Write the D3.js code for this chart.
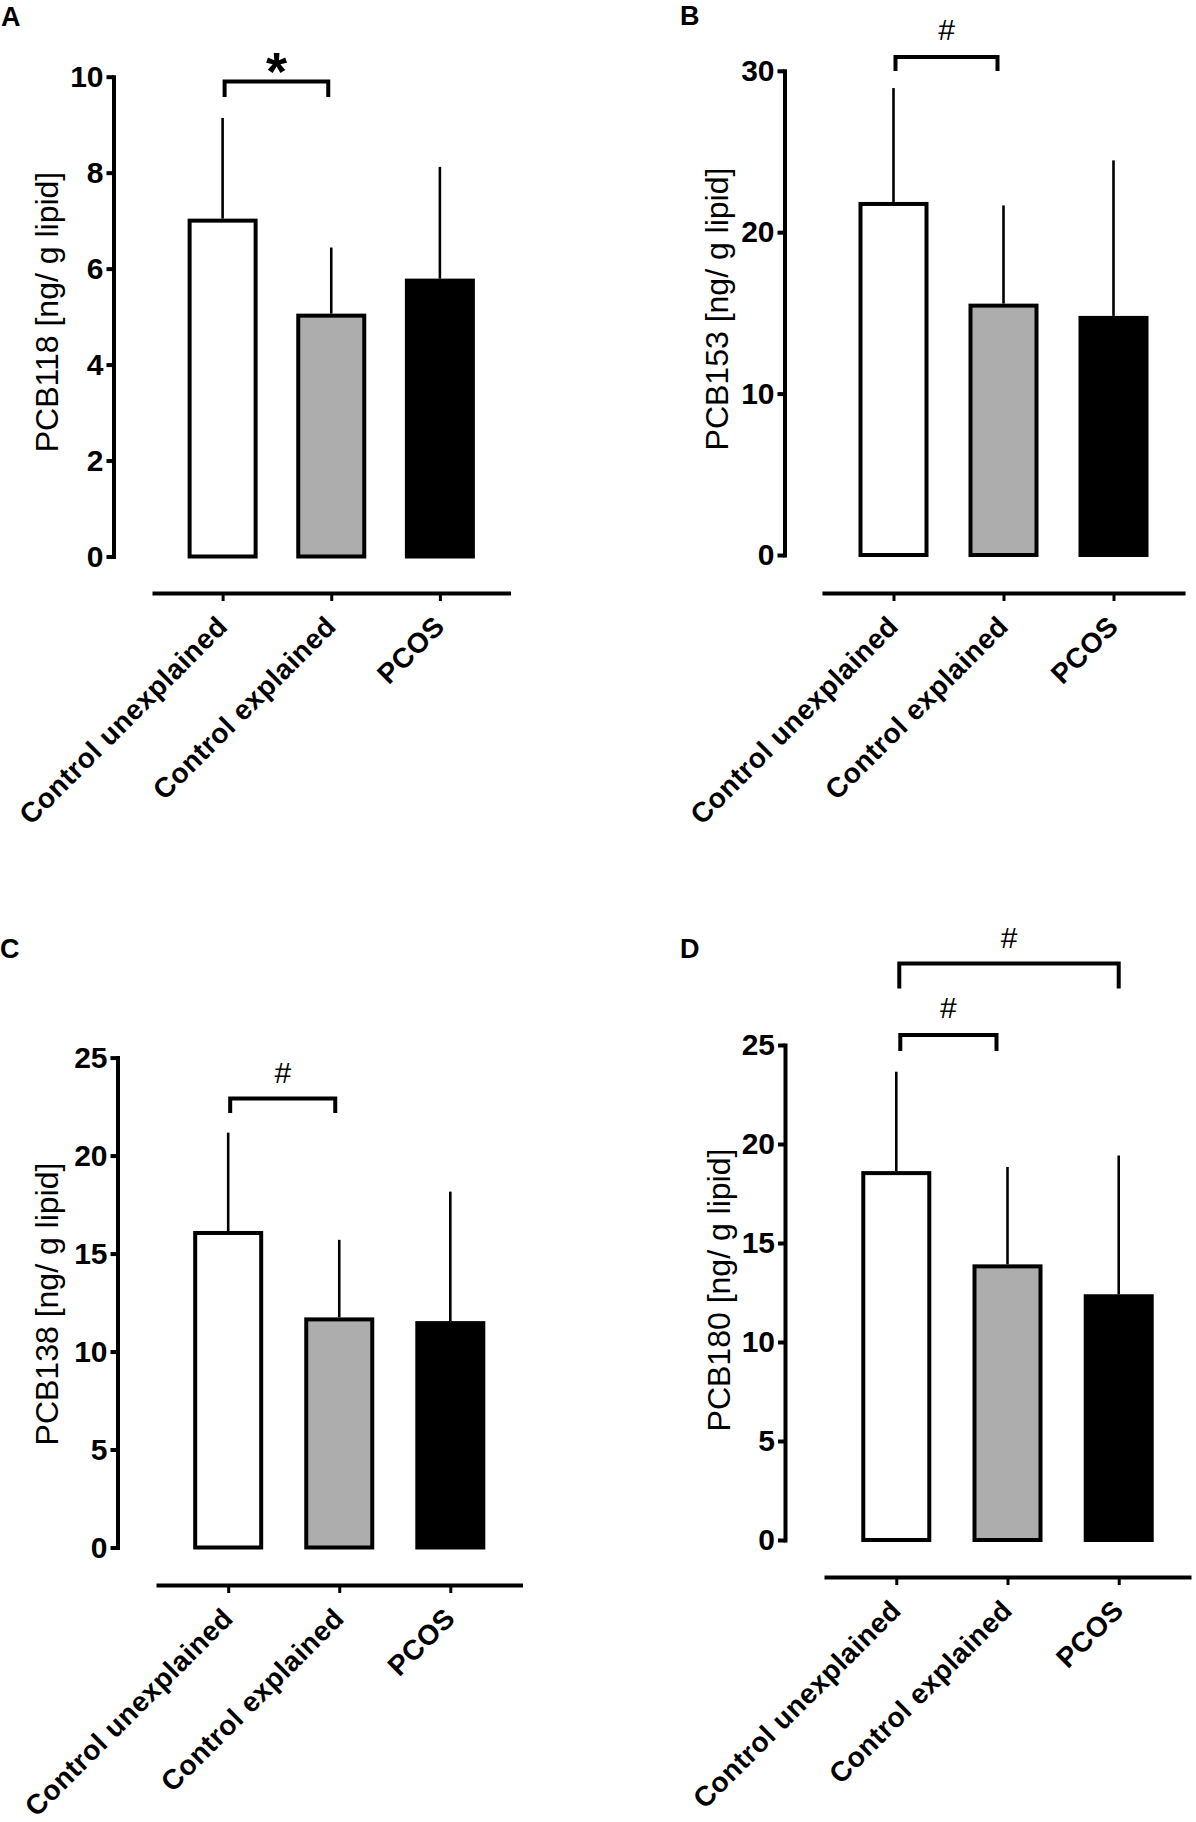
<!DOCTYPE html>
<html>
<head>
<meta charset="utf-8">
<script src="https://cdn.jsdelivr.net/npm/d3@7"></script>
<style>
  body { margin: 0; background: #fff; }
  svg { display: block; }
</style>
</head>
<body>
<div id="chart"></div>
<script>
// groups on the x axis
var categories = ["Control unexplained", "Control explained", "PCOS"];

// bar heights (mean) and upper error (sd)
var pcb118Mean = [7.0, 5.02, 5.75];
var pcb118Sd = [2.14, 1.42, 2.37];
var pcb153Mean = [21.75, 15.45, 14.69];
var pcb153Sd = [7.18, 6.21, 9.76];
var pcb138Mean = [16.05, 11.64, 11.45];
var pcb138Sd = [5.12, 4.06, 6.71];
var pcb180Mean = [18.53, 13.82, 12.31];
var pcb180Sd = [5.12, 5.02, 7.11];

// y tick labels
var ticks118 = [0, 2, 4, 6, 8, 10];
var ticks153 = [0, 10, 20, 30];
var ticks138 = [0, 5, 10, 15, 20, 25];
var ticks180 = [0, 5, 10, 15, 20, 25];

// significance marks: [from group, to group, symbol]
var sig118 = [[0, 1, "*"]];
var sig153 = [[0, 1, "#"]];
var sig138 = [[0, 1, "#"]];
var sig180 = [[0, 1, "#"], [0, 2, "#"]];

var FONT = "'Liberation Sans', Arial, Helvetica, sans-serif";
var fills = ["#ffffff", "#adadad", "#000000"];

var panels = [
  {letter: "A", mean: pcb118Mean, sd: pcb118Sd, ticks: ticks118, sig: sig118,
   title: "PCB118 [ng/ g lipid]",
   lx: 1, ly: 26, axisX: 113.5, y0: 556.5, yTop: 76.7, xAxisY: 593, x1: 152, x2: 510.5,
   labX: 47, labY: 312,
   br: [{y: 81.5, drop: 15.5, l: 2, r: -3, ty: 90, big: true}]},
  {letter: "B", mean: pcb153Mean, sd: pcb153Sd, ticks: ticks153, sig: sig153,
   title: "PCB153 [ng/ g lipid]",
   lx: 680, ly: 25, axisX: 784.5, y0: 555, yTop: 70.8, xAxisY: 593, x1: 822, x2: 1185,
   labX: 717, labY: 309,
   br: [{y: 57, drop: 14, l: 2, r: -6, ty: 40}]},
  {letter: "C", mean: pcb138Mean, sd: pcb138Sd, ticks: ticks138, sig: sig138,
   title: "PCB138 [ng/ g lipid]",
   lx: 0, ly: 958, axisX: 117.5, y0: 1547.5, yTop: 1057.6, xAxisY: 1585, x1: 156, x2: 522.5,
   labX: 47, labY: 1304,
   br: [{y: 1098.5, drop: 14.5, l: 2, r: -4, ty: 1082.5}]},
  {letter: "D", mean: pcb180Mean, sd: pcb180Sd, ticks: ticks180, sig: sig180,
   title: "PCB180 [ng/ g lipid]",
   lx: 680, ly: 958, axisX: 785, y0: 1540, yTop: 1045, xAxisY: 1577, x1: 824, x2: 1191,
   labX: 719, labY: 1290,
   br: [{y: 1035, drop: 16, l: 4, r: -11, ty: 1018},
        {y: 963.5, drop: 25, l: 3, r: 0, ty: 948}]}
];

var svg = d3.select("#chart").append("svg")
    .attr("width", 1196)
    .attr("height", 1822)
    .style("background", "#fff");

var drawPanel = function(p) {
  var g = svg.append("g").attr("font-family", FONT);

  var y = d3.scaleLinear()
      .domain([0, d3.max(p.ticks)])
      .range([p.y0, p.yTop]);
  var x = d3.scalePoint()
      .domain(categories)
      .range([p.x1, p.x2])
      .padding(0.65);

  // panel letter
  g.append("text")
      .attr("x", p.lx).attr("y", p.ly)
      .attr("font-size", 27).attr("font-weight", "bold")
      .text(p.letter);

  // bars
  var bw = 70, sw = 4;
  g.selectAll("rect.bar")
      .data(p.mean)
      .enter()
      .append("rect")
      .attr("class", "bar")
      .attr("x", function(d, i) { return x(categories[i]) - bw / 2 + sw / 2; })
      .attr("y", function(d) { return y(d); })
      .attr("width", bw - sw)
      .attr("height", function(d) { return p.y0 - y(d); })
      .attr("fill", function(d, i) { return fills[i]; })
      .attr("stroke", "#000")
      .attr("stroke-width", sw);

  // upper error lines
  g.selectAll("line.err")
      .data(p.mean)
      .enter()
      .append("line")
      .attr("class", "err")
      .attr("x1", function(d, i) { return x(categories[i]); })
      .attr("x2", function(d, i) { return x(categories[i]); })
      .attr("y1", function(d) { return y(d) - sw / 2; })
      .attr("y2", function(d, i) { return y(d + p.sd[i]); })
      .attr("stroke", "#000")
      .attr("stroke-width", 2.6);

  // y axis
  var ya = g.append("g")
      .attr("transform", "translate(" + p.axisX + ",0)")
      .call(d3.axisLeft(y).tickValues(p.ticks).tickSize(7).tickSizeOuter(0).tickPadding(3));
  ya.attr("font-family", FONT).attr("font-size", 30).attr("font-weight", "bold");
  ya.select(".domain").attr("stroke-width", 4).attr("stroke-linecap", "square");
  ya.selectAll(".tick line").attr("stroke-width", 4);
  ya.selectAll(".tick text").attr("fill", "#000");

  // x axis, drawn below the zero line
  var xa = g.append("g")
      .attr("transform", "translate(0," + p.xAxisY + ")")
      .call(d3.axisBottom(x).tickSize(8).tickSizeOuter(0));
  xa.attr("font-family", FONT).attr("font-size", 28).attr("font-weight", "bold");
  xa.select(".domain").attr("stroke-width", 4);
  xa.selectAll(".tick line").attr("stroke-width", 3);
  xa.selectAll(".tick text")
      .attr("x", 0).attr("y", 0).attr("dy", 0)
      .attr("fill", "#000")
      .attr("letter-spacing", 0.5)
      .attr("text-anchor", "end")
      .attr("transform", "translate(6,35) rotate(-45)");

  // y axis title
  g.append("text")
      .attr("transform", "translate(" + p.labX + "," + p.labY + ") rotate(-90)")
      .attr("text-anchor", "middle")
      .attr("dy", "0.35em")
      .attr("font-size", 32)
      .text(p.title);

  // significance brackets
  p.sig.forEach(function(s, k) {
    var b = p.br[k];
    var xa0 = x(categories[s[0]]) + b.l;
    var xb0 = x(categories[s[1]]) + b.r;
    g.append("path")
        .attr("d", "M" + xa0 + "," + (b.y + b.drop) + "V" + b.y + "H" + xb0 + "V" + (b.y + b.drop))
        .attr("fill", "none")
        .attr("stroke", "#000")
        .attr("stroke-width", 4);
    g.append("text")
        .attr("x", (xa0 + xb0) / 2)
        .attr("y", b.ty)
        .attr("text-anchor", "middle")
        .attr("font-size", b.big ? 54 : 30)
        .attr("font-weight", b.big ? "bold" : "normal")
        .text(s[2]);
  });
};

panels.forEach(drawPanel);
</script>
</body>
</html>
